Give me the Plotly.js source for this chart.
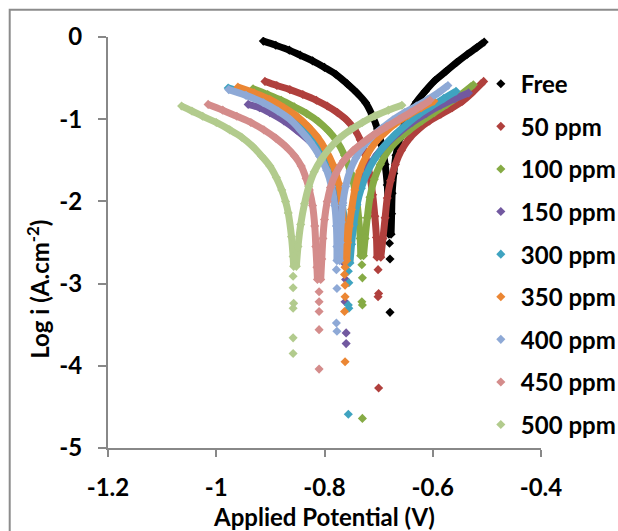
<!DOCTYPE html>
<html><head><meta charset="utf-8">
<script src="https://cdn.plot.ly/plotly-3.0.1.min.js"></script>
<style>html,body{margin:0;padding:0;background:#fff;}#chart{width:618px;height:531px;}</style>
</head><body><div id="chart"></div>
<script>
const seriesNames = ['Free','50 ppm','100 ppm','150 ppm','300 ppm','350 ppm','400 ppm','450 ppm','500 ppm'];

const free_cathodic = [[-0.913,-0.05],[-0.890,-0.10],[-0.865,-0.16],[-0.845,-0.22],[-0.822,-0.29],[-0.800,-0.37],[-0.778,-0.46],[-0.758,-0.57],[-0.740,-0.68],[-0.724,-0.80],[-0.712,-0.95],[-0.702,-1.12],[-0.694,-1.32],[-0.688,-1.55],[-0.684,-1.80],[-0.682,-2.10],[-0.681,-2.40]];
const free_tail = [[-0.680,-2.51],[-0.679,-2.70],[-0.679,-3.35]];
const free_anodic = [[-0.677,-2.40],[-0.676,-2.15],[-0.675,-1.90],[-0.672,-1.66],[-0.668,-1.44],[-0.661,-1.24],[-0.653,-1.08],[-0.643,-0.93],[-0.630,-0.79],[-0.614,-0.66],[-0.596,-0.53],[-0.576,-0.42],[-0.556,-0.31],[-0.536,-0.21],[-0.519,-0.13],[-0.505,-0.06]];

const p50_cathodic = [[-0.910,-0.54],[-0.888,-0.59],[-0.864,-0.64],[-0.840,-0.70],[-0.815,-0.77],[-0.795,-0.84],[-0.776,-0.92],[-0.759,-1.01],[-0.745,-1.12],[-0.734,-1.25],[-0.725,-1.43],[-0.717,-1.66],[-0.711,-1.92],[-0.707,-2.18],[-0.704,-2.44],[-0.703,-2.68]];
const p50_tail = [[-0.701,-2.83],[-0.700,-3.12],[-0.701,-3.16],[-0.700,-4.27]];
const p50_anodic = [[-0.696,-2.68],[-0.692,-2.45],[-0.688,-2.20],[-0.684,-1.96],[-0.678,-1.75],[-0.669,-1.55],[-0.658,-1.38],[-0.644,-1.24],[-0.626,-1.12],[-0.606,-1.02],[-0.585,-0.94],[-0.564,-0.86],[-0.545,-0.78],[-0.526,-0.67],[-0.506,-0.54]];

const p100_cathodic = [[-0.932,-0.63],[-0.905,-0.70],[-0.880,-0.77],[-0.856,-0.85],[-0.833,-0.93],[-0.811,-1.03],[-0.793,-1.14],[-0.777,-1.27],[-0.763,-1.44],[-0.751,-1.66],[-0.742,-1.92],[-0.737,-2.20],[-0.734,-2.45],[-0.733,-2.66]];
const p100_tail = [[-0.731,-2.77],[-0.730,-2.93],[-0.731,-3.22],[-0.730,-3.26],[-0.730,-4.64]];
const p100_anodic = [[-0.728,-2.66],[-0.725,-2.45],[-0.721,-2.20],[-0.716,-1.95],[-0.708,-1.73],[-0.697,-1.55],[-0.683,-1.39],[-0.664,-1.25],[-0.643,-1.13],[-0.620,-1.02],[-0.597,-0.92],[-0.574,-0.82],[-0.550,-0.71],[-0.525,-0.58]];

const p150_cathodic = [[-0.941,-0.82],[-0.920,-0.86],[-0.901,-0.92],[-0.875,-1.02],[-0.852,-1.13],[-0.832,-1.24],[-0.815,-1.35],[-0.800,-1.48],[-0.788,-1.63],[-0.778,-1.82],[-0.771,-2.05],[-0.767,-2.30],[-0.765,-2.55],[-0.764,-2.75]];
const p150_tail = [[-0.761,-2.95],[-0.762,-3.22],[-0.760,-3.60],[-0.760,-3.73]];
const p150_anodic = [[-0.757,-2.75],[-0.754,-2.50],[-0.749,-2.25],[-0.742,-2.00],[-0.732,-1.79],[-0.719,-1.59],[-0.703,-1.43],[-0.684,-1.29],[-0.662,-1.16],[-0.638,-1.04],[-0.612,-0.93],[-0.585,-0.83],[-0.559,-0.75],[-0.534,-0.68]];

const p300_cathodic = [[-0.978,-0.62],[-0.945,-0.69],[-0.912,-0.78],[-0.882,-0.88],[-0.857,-0.99],[-0.835,-1.11],[-0.816,-1.25],[-0.800,-1.40],[-0.786,-1.58],[-0.775,-1.80],[-0.767,-2.05],[-0.762,-2.30],[-0.760,-2.55],[-0.759,-2.75]];
const p300_tail = [[-0.756,-2.85],[-0.755,-2.99],[-0.756,-3.26],[-0.755,-3.30],[-0.756,-4.59]];
const p300_anodic = [[-0.753,-2.75],[-0.750,-2.52],[-0.746,-2.28],[-0.740,-2.04],[-0.732,-1.84],[-0.721,-1.65],[-0.707,-1.48],[-0.690,-1.33],[-0.670,-1.19],[-0.648,-1.06],[-0.625,-0.94],[-0.602,-0.84],[-0.580,-0.75],[-0.557,-0.66]];

const p350_cathodic = [[-0.960,-0.61],[-0.930,-0.68],[-0.901,-0.76],[-0.875,-0.86],[-0.850,-0.97],[-0.830,-1.09],[-0.814,-1.21],[-0.798,-1.37],[-0.784,-1.56],[-0.774,-1.78],[-0.768,-2.02],[-0.765,-2.30],[-0.764,-2.55],[-0.764,-2.72]];
const p350_tail = [[-0.762,-2.80],[-0.763,-2.89],[-0.762,-3.02],[-0.762,-3.16],[-0.763,-3.34],[-0.762,-3.95]];
const p350_anodic = [[-0.759,-2.72],[-0.757,-2.50],[-0.754,-2.30],[-0.750,-2.10],[-0.744,-1.86],[-0.735,-1.63],[-0.722,-1.44],[-0.706,-1.28],[-0.688,-1.16],[-0.668,-1.05],[-0.645,-0.95],[-0.621,-0.86],[-0.598,-0.78]];

const p400_cathodic = [[-0.977,-0.64],[-0.945,-0.71],[-0.913,-0.80],[-0.886,-0.90],[-0.864,-1.00],[-0.845,-1.13],[-0.826,-1.28],[-0.809,-1.45],[-0.796,-1.62],[-0.787,-1.82],[-0.781,-2.05],[-0.778,-2.30],[-0.777,-2.55],[-0.777,-2.72]];
const p400_tail = [[-0.778,-2.83],[-0.777,-3.06],[-0.778,-3.48],[-0.777,-3.58]];
const p400_anodic = [[-0.772,-2.72],[-0.771,-2.50],[-0.769,-2.25],[-0.766,-2.02],[-0.761,-1.82],[-0.753,-1.63],[-0.742,-1.47],[-0.728,-1.33],[-0.712,-1.21],[-0.694,-1.11],[-0.674,-1.01],[-0.652,-0.92],[-0.630,-0.84],[-0.609,-0.76],[-0.590,-0.68],[-0.572,-0.59]];

const p450_cathodic = [[-1.015,-0.82],[-0.988,-0.89],[-0.962,-0.965],[-0.936,-1.04],[-0.912,-1.13],[-0.890,-1.23],[-0.872,-1.33],[-0.855,-1.45],[-0.843,-1.57],[-0.834,-1.72],[-0.828,-1.86],[-0.822,-2.05],[-0.818,-2.30],[-0.816,-2.55],[-0.814,-2.80],[-0.813,-2.95]];
const p450_tail = [[-0.810,-3.10],[-0.810,-3.22],[-0.810,-3.34],[-0.810,-3.56],[-0.810,-4.04]];
const p450_anodic = [[-0.807,-2.95],[-0.805,-2.70],[-0.803,-2.45],[-0.800,-2.22],[-0.795,-2.00],[-0.789,-1.83],[-0.779,-1.66],[-0.765,-1.51],[-0.747,-1.38],[-0.728,-1.28],[-0.707,-1.18],[-0.685,-1.09],[-0.662,-1.00],[-0.641,-0.92],[-0.621,-0.84],[-0.605,-0.77]];

const p500_cathodic = [[-1.064,-0.84],[-1.045,-0.90],[-1.025,-0.965],[-1.000,-1.04],[-0.975,-1.13],[-0.953,-1.22],[-0.933,-1.33],[-0.916,-1.45],[-0.901,-1.57],[-0.889,-1.71],[-0.879,-1.86],[-0.872,-2.00],[-0.867,-2.14],[-0.861,-2.43],[-0.858,-2.67],[-0.857,-2.79]];
const p500_tail = [[-0.858,-2.91],[-0.858,-3.05],[-0.857,-3.24],[-0.858,-3.30],[-0.858,-3.66],[-0.858,-3.85]];
const p500_anodic = [[-0.852,-2.79],[-0.849,-2.55],[-0.844,-2.28],[-0.837,-2.03],[-0.829,-1.82],[-0.819,-1.64],[-0.806,-1.49],[-0.790,-1.35],[-0.772,-1.23],[-0.752,-1.13],[-0.730,-1.04],[-0.707,-0.96],[-0.682,-0.89],[-0.657,-0.83]];

const xTickVals = [-1.2,-1,-0.8,-0.6,-0.4];
const xTickText = ['-1.2','-1','-0.8','-0.6','-0.4'];
const yTickVals = [0,-1,-2,-3,-4,-5];
const yTickText = ['0','-1','-2','-3','-4','-5'];

const seriesData = [
  [free_cathodic, free_tail, free_anodic],
  [p50_cathodic, p50_tail, p50_anodic],
  [p100_cathodic, p100_tail, p100_anodic],
  [p150_cathodic, p150_tail, p150_anodic],
  [p300_cathodic, p300_tail, p300_anodic],
  [p350_cathodic, p350_tail, p350_anodic],
  [p400_cathodic, p400_tail, p400_anodic],
  [p450_cathodic, p450_tail, p450_anodic],
  [p500_cathodic, p500_tail, p500_anodic]
];
const seriesColors = ['#000000','#B0403D','#86AB45','#7259A0','#3FA3C0','#EB8633','#8EA9D6','#D48C8B','#B2CB8D'];

function sweep(cath, tail, anod) {
  const x = [], y = [];
  cath.forEach(p => { x.push(p[0]); y.push(p[1]); });
  x.push(null); y.push(null);
  tail.forEach(p => { x.push(p[0]); y.push(p[1]); x.push(null); y.push(null); });
  anod.forEach(p => { x.push(p[0]); y.push(p[1]); });
  return {x, y};
}

const FONT = 'Lato, "Open Sans", sans-serif';
const traces = [];
seriesData.forEach((s, i) => {
  const d = sweep(s[0], s[1], s[2]);
  traces.push({
    type: 'scatter', mode: 'lines+markers', x: d.x, y: d.y,
    name: seriesNames[i], legendgroup: 'g' + i, showlegend: false,
    connectgaps: false,
    line: {color: seriesColors[i], width: 7, shape: 'spline', smoothing: 1},
    marker: {symbol: 'diamond', size: 7, color: seriesColors[i]},
    hoverinfo: 'skip'
  });
});
seriesNames.forEach((n, i) => {
  traces.push({
    type: 'scatter', mode: 'markers', x: [null], y: [null],
    name: n, legendgroup: 'g' + i, showlegend: true,
    marker: {symbol: 'diamond', size: 7, color: seriesColors[i]}
  });
});

const axisCommon = {
  showgrid: false, zeroline: false, showline: true,
  linecolor: '#888888', linewidth: 2,
  ticks: 'outside', tickcolor: '#888888', tickwidth: 2,
  tickfont: {family: FONT, size: 24, color: '#000', weight: 'bold'}
};

const layout = {
  width: 618, height: 531,
  margin: {l: 108, r: 77, t: 37, b: 83, autoexpand: false},
  paper_bgcolor: '#fff', plot_bgcolor: '#fff',
  showlegend: true,
  legend: {
    x: 0.861, y: 0.94, xanchor: 'left', yanchor: 'top',
    bgcolor: 'rgba(0,0,0,0)', borderwidth: 0,
    traceorder: 'grouped', tracegroupgap: 8.4,
    itemwidth: 30,
    font: {family: FONT, size: 24, color: '#000', weight: 'bold'}
  },
  xaxis: Object.assign({}, axisCommon, {
    range: [-1.2, -0.4], tickmode: 'array', tickvals: xTickVals, ticktext: xTickText,
    ticklen: 7, ticklabelstandoff: 10,
    title: {text: 'Applied Potential (V)', standoff: 12, font: {family: FONT, size: 24, color: '#000', weight: 'bold'}}
  }),
  yaxis: Object.assign({}, axisCommon, {
    range: [-5, 0], tickmode: 'array', tickvals: yTickVals, ticktext: yTickText,
    ticklen: 8, ticklabelstandoff: 11
  }),
  annotations: [{
    text: 'Log i (A.cm<sup>-2</sup>)', xref: 'paper', yref: 'paper',
    x: -0.162, y: 0.387, xanchor: 'center', yanchor: 'middle', textangle: -90,
    showarrow: false, font: {family: FONT, size: 24, color: '#000', weight: 'bold'}
  }],
  shapes: [{
    type: 'rect', xref: 'paper', yref: 'paper',
    x0: -0.227, x1: 1.6, y0: -0.6, y1: 1.066,
    line: {color: '#8C8C8C', width: 2}, fillcolor: 'rgba(0,0,0,0)', layer: 'below'
  }]
};

Plotly.newPlot('chart', traces, layout, {displayModeBar: false, staticPlot: true});
</script></body></html>
